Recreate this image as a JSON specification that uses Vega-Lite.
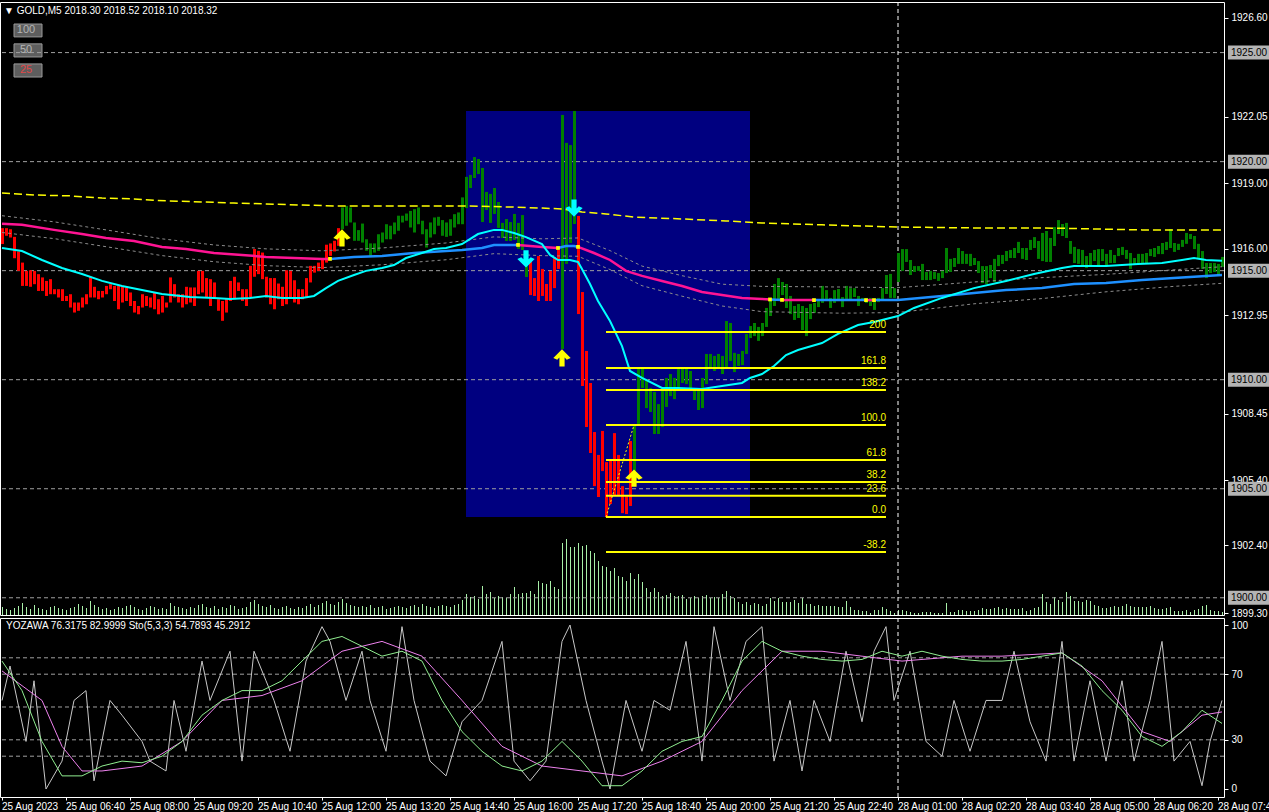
{
"$schema":"https://vega.github.io/schema/vega-lite/v6.json",
"background":"#000000",
"padding":{"left":-4,"top":1,"right":0,"bottom":0},
"bounds":"flush",
"spacing":3,
"config":{"view":{"stroke":"#FFFFFF","strokeWidth":1},"font":"Liberation Sans","axis":{"labelFont":"Liberation Sans","labelFontSize":10,"labelColor":"#FFFFFF","tickColor":"#FFFFFF","domain":false,"grid":false,"labelOverlap":false}},
"resolve":{"scale":{"x":"shared","y":"independent"}},
"datasets":{
"bars":[
{"t":"25 Aug 05:20","o":1916.95,"c":1916.22,"v":80,"k":"d"},
{"t":"25 Aug 05:25","o":1916.95,"c":1916.60,"v":60,"k":"d"},
{"t":"25 Aug 05:30","o":1916.90,"c":1916.52,"v":50,"k":"d"},
{"t":"25 Aug 05:35","o":1916.55,"c":1915.57,"v":70,"k":"d"},
{"t":"25 Aug 05:40","o":1915.88,"c":1914.99,"v":90,"k":"d"},
{"t":"25 Aug 05:45","o":1915.37,"c":1914.30,"v":120,"k":"d"},
{"t":"25 Aug 05:50","o":1914.99,"c":1914.30,"v":80,"k":"d"},
{"t":"25 Aug 05:55","o":1915.02,"c":1914.26,"v":60,"k":"d"},
{"t":"25 Aug 06:00","o":1914.99,"c":1914.38,"v":100,"k":"d"},
{"t":"25 Aug 06:05","o":1914.84,"c":1914.07,"v":70,"k":"d"},
{"t":"25 Aug 06:10","o":1914.69,"c":1914.07,"v":60,"k":"d"},
{"t":"25 Aug 06:15","o":1914.53,"c":1913.84,"v":50,"k":"d"},
{"t":"25 Aug 06:20","o":1914.61,"c":1913.92,"v":80,"k":"d"},
{"t":"25 Aug 06:25","o":1914.15,"c":1913.92,"v":90,"k":"d"},
{"t":"25 Aug 06:30","o":1914.15,"c":1913.77,"v":70,"k":"d"},
{"t":"25 Aug 06:35","o":1914.15,"c":1913.61,"v":60,"k":"d"},
{"t":"25 Aug 06:40","o":1913.84,"c":1913.61,"v":50,"k":"d"},
{"t":"25 Aug 06:45","o":1913.92,"c":1913.31,"v":70,"k":"d"},
{"t":"25 Aug 06:50","o":1913.54,"c":1913.08,"v":80,"k":"d"},
{"t":"25 Aug 06:55","o":1913.54,"c":1913.16,"v":110,"k":"d"},
{"t":"25 Aug 07:00","o":1913.77,"c":1913.31,"v":90,"k":"d"},
{"t":"25 Aug 07:05","o":1913.92,"c":1913.46,"v":70,"k":"d"},
{"t":"25 Aug 07:10","o":1914.72,"c":1913.77,"v":140,"k":"d"},
{"t":"25 Aug 07:15","o":1914.26,"c":1913.77,"v":100,"k":"d"},
{"t":"25 Aug 07:20","o":1914.07,"c":1913.69,"v":80,"k":"d"},
{"t":"25 Aug 07:25","o":1914.07,"c":1913.77,"v":60,"k":"d"},
{"t":"25 Aug 07:30","o":1914.30,"c":1913.92,"v":70,"k":"d"},
{"t":"25 Aug 07:35","o":1914.38,"c":1914.15,"v":50,"k":"d"},
{"t":"25 Aug 07:40","o":1914.30,"c":1913.61,"v":60,"k":"d"},
{"t":"25 Aug 07:45","o":1914.30,"c":1913.23,"v":80,"k":"d"},
{"t":"25 Aug 07:50","o":1914.26,"c":1913.54,"v":70,"k":"d"},
{"t":"25 Aug 07:55","o":1914.23,"c":1913.61,"v":90,"k":"d"},
{"t":"25 Aug 08:00","o":1914.00,"c":1913.38,"v":100,"k":"d"},
{"t":"25 Aug 08:05","o":1913.61,"c":1913.08,"v":80,"k":"d"},
{"t":"25 Aug 08:10","o":1913.38,"c":1913.00,"v":60,"k":"d"},
{"t":"25 Aug 08:15","o":1913.92,"c":1913.31,"v":50,"k":"d"},
{"t":"25 Aug 08:20","o":1913.84,"c":1913.38,"v":70,"k":"d"},
{"t":"25 Aug 08:25","o":1913.77,"c":1913.31,"v":90,"k":"d"},
{"t":"25 Aug 08:30","o":1914.00,"c":1913.23,"v":80,"k":"d"},
{"t":"25 Aug 08:35","o":1913.69,"c":1913.00,"v":60,"k":"d"},
{"t":"25 Aug 08:40","o":1913.84,"c":1913.08,"v":70,"k":"d"},
{"t":"25 Aug 08:45","o":1913.54,"c":1913.31,"v":60,"k":"d"},
{"t":"25 Aug 08:50","o":1914.69,"c":1913.54,"v":120,"k":"d"},
{"t":"25 Aug 08:55","o":1914.38,"c":1913.77,"v":90,"k":"d"},
{"t":"25 Aug 09:00","o":1913.92,"c":1913.54,"v":80,"k":"d"},
{"t":"25 Aug 09:05","o":1913.92,"c":1913.31,"v":70,"k":"d"},
{"t":"25 Aug 09:10","o":1914.26,"c":1913.46,"v":60,"k":"d"},
{"t":"25 Aug 09:15","o":1914.23,"c":1913.54,"v":80,"k":"d"},
{"t":"25 Aug 09:20","o":1914.23,"c":1913.38,"v":70,"k":"d"},
{"t":"25 Aug 09:25","o":1914.99,"c":1913.92,"v":100,"k":"d"},
{"t":"25 Aug 09:30","o":1914.99,"c":1914.00,"v":110,"k":"d"},
{"t":"25 Aug 09:35","o":1914.66,"c":1913.77,"v":80,"k":"d"},
{"t":"25 Aug 09:40","o":1914.61,"c":1913.38,"v":70,"k":"d"},
{"t":"25 Aug 09:45","o":1914.46,"c":1913.77,"v":90,"k":"d"},
{"t":"25 Aug 09:50","o":1913.69,"c":1913.16,"v":60,"k":"d"},
{"t":"25 Aug 09:55","o":1913.61,"c":1912.70,"v":80,"k":"d"},
{"t":"25 Aug 10:00","o":1913.69,"c":1913.08,"v":70,"k":"d"},
{"t":"25 Aug 10:05","o":1914.53,"c":1913.61,"v":100,"k":"d"},
{"t":"25 Aug 10:10","o":1914.72,"c":1913.69,"v":90,"k":"d"},
{"t":"25 Aug 10:15","o":1914.46,"c":1914.07,"v":60,"k":"d"},
{"t":"25 Aug 10:20","o":1914.15,"c":1913.61,"v":70,"k":"d"},
{"t":"25 Aug 10:25","o":1914.15,"c":1913.38,"v":80,"k":"d"},
{"t":"25 Aug 10:30","o":1915.22,"c":1913.77,"v":130,"k":"d"},
{"t":"25 Aug 10:35","o":1915.99,"c":1914.72,"v":150,"k":"d"},
{"t":"25 Aug 10:40","o":1915.91,"c":1914.84,"v":110,"k":"d"},
{"t":"25 Aug 10:45","o":1915.83,"c":1914.61,"v":90,"k":"d"},
{"t":"25 Aug 10:50","o":1914.72,"c":1913.77,"v":80,"k":"d"},
{"t":"25 Aug 10:55","o":1914.66,"c":1913.46,"v":100,"k":"d"},
{"t":"25 Aug 11:00","o":1914.66,"c":1913.23,"v":70,"k":"d"},
{"t":"25 Aug 11:05","o":1914.41,"c":1913.69,"v":60,"k":"d"},
{"t":"25 Aug 11:10","o":1914.26,"c":1913.38,"v":80,"k":"d"},
{"t":"25 Aug 11:15","o":1915.02,"c":1913.46,"v":90,"k":"d"},
{"t":"25 Aug 11:20","o":1914.99,"c":1913.77,"v":70,"k":"d"},
{"t":"25 Aug 11:25","o":1914.56,"c":1913.54,"v":60,"k":"d"},
{"t":"25 Aug 11:30","o":1914.15,"c":1913.46,"v":80,"k":"d"},
{"t":"25 Aug 11:35","o":1914.15,"c":1913.69,"v":70,"k":"d"},
{"t":"25 Aug 11:40","o":1914.66,"c":1913.77,"v":90,"k":"d"},
{"t":"25 Aug 11:45","o":1915.22,"c":1914.46,"v":110,"k":"d"},
{"t":"25 Aug 11:50","o":1915.22,"c":1914.91,"v":80,"k":"d"},
{"t":"25 Aug 11:55","o":1915.37,"c":1914.99,"v":100,"k":"d"},
{"t":"25 Aug 12:00","o":1915.53,"c":1915.07,"v":120,"k":"d"},
{"t":"25 Aug 12:05","o":1916.19,"c":1915.37,"v":140,"k":"d"},
{"t":"25 Aug 12:10","o":1916.25,"c":1915.68,"v":110,"k":"d"},
{"t":"25 Aug 12:15","o":1916.37,"c":1915.88,"v":100,"k":"d"},
{"t":"25 Aug 12:20","o":1916.95,"c":1916.14,"v":130,"k":"d"},
{"t":"25 Aug 12:25","o":1916.90,"c":1917.90,"v":160,"k":"u"},
{"t":"25 Aug 12:30","o":1917.06,"c":1917.97,"v":120,"k":"u"},
{"t":"25 Aug 12:35","o":1917.21,"c":1917.90,"v":100,"k":"u"},
{"t":"25 Aug 12:40","o":1916.37,"c":1917.21,"v":90,"k":"u"},
{"t":"25 Aug 12:45","o":1916.37,"c":1916.86,"v":80,"k":"u"},
{"t":"25 Aug 12:50","o":1916.29,"c":1917.16,"v":90,"k":"u"},
{"t":"25 Aug 12:55","o":1915.91,"c":1916.44,"v":80,"k":"u"},
{"t":"25 Aug 13:00","o":1915.68,"c":1916.25,"v":100,"k":"u"},
{"t":"25 Aug 13:05","o":1915.83,"c":1916.25,"v":70,"k":"u"},
{"t":"25 Aug 13:10","o":1915.91,"c":1916.67,"v":80,"k":"u"},
{"t":"25 Aug 13:15","o":1916.29,"c":1916.75,"v":90,"k":"u"},
{"t":"25 Aug 13:20","o":1916.44,"c":1917.13,"v":60,"k":"u"},
{"t":"25 Aug 13:25","o":1916.44,"c":1917.06,"v":70,"k":"u"},
{"t":"25 Aug 13:30","o":1916.67,"c":1917.21,"v":80,"k":"u"},
{"t":"25 Aug 13:35","o":1916.83,"c":1917.52,"v":90,"k":"u"},
{"t":"25 Aug 13:40","o":1917.21,"c":1917.52,"v":80,"k":"u"},
{"t":"25 Aug 13:45","o":1917.29,"c":1917.62,"v":70,"k":"u"},
{"t":"25 Aug 13:50","o":1916.98,"c":1917.74,"v":90,"k":"u"},
{"t":"25 Aug 13:55","o":1916.75,"c":1917.82,"v":100,"k":"u"},
{"t":"25 Aug 14:00","o":1917.13,"c":1917.90,"v":80,"k":"u"},
{"t":"25 Aug 14:05","o":1916.67,"c":1917.29,"v":110,"k":"u"},
{"t":"25 Aug 14:10","o":1916.06,"c":1916.90,"v":90,"k":"u"},
{"t":"25 Aug 14:15","o":1916.52,"c":1917.21,"v":80,"k":"u"},
{"t":"25 Aug 14:20","o":1916.67,"c":1917.44,"v":70,"k":"u"},
{"t":"25 Aug 14:25","o":1917.06,"c":1917.47,"v":90,"k":"u"},
{"t":"25 Aug 14:30","o":1916.60,"c":1917.32,"v":100,"k":"u"},
{"t":"25 Aug 14:35","o":1916.55,"c":1917.21,"v":90,"k":"u"},
{"t":"25 Aug 14:40","o":1916.60,"c":1917.36,"v":80,"k":"u"},
{"t":"25 Aug 14:45","o":1916.98,"c":1917.59,"v":100,"k":"u"},
{"t":"25 Aug 14:50","o":1917.13,"c":1917.67,"v":110,"k":"u"},
{"t":"25 Aug 14:55","o":1917.13,"c":1918.36,"v":150,"k":"u"},
{"t":"25 Aug 15:00","o":1917.87,"c":1919.30,"v":210,"k":"u"},
{"t":"25 Aug 15:05","o":1918.79,"c":1919.39,"v":180,"k":"u"},
{"t":"25 Aug 15:10","o":1919.25,"c":1920.21,"v":190,"k":"u"},
{"t":"25 Aug 15:15","o":1919.43,"c":1920.12,"v":160,"k":"u"},
{"t":"25 Aug 15:20","o":1917.23,"c":1919.71,"v":290,"k":"u"},
{"t":"25 Aug 15:25","o":1917.78,"c":1918.61,"v":210,"k":"u"},
{"t":"25 Aug 15:30","o":1917.19,"c":1918.52,"v":230,"k":"u"},
{"t":"25 Aug 15:35","o":1917.60,"c":1918.79,"v":170,"k":"u"},
{"t":"25 Aug 15:40","o":1916.96,"c":1918.15,"v":190,"k":"u"},
{"t":"25 Aug 15:45","o":1916.50,"c":1917.19,"v":180,"k":"u"},
{"t":"25 Aug 15:50","o":1916.36,"c":1917.37,"v":170,"k":"u"},
{"t":"25 Aug 15:55","o":1916.36,"c":1917.23,"v":210,"k":"u"},
{"t":"25 Aug 16:00","o":1916.41,"c":1917.60,"v":280,"k":"u"},
{"t":"25 Aug 16:05","o":1916.00,"c":1917.19,"v":210,"k":"u"},
{"t":"25 Aug 16:10","o":1915.95,"c":1917.55,"v":220,"k":"u"},
{"t":"25 Aug 16:15","o":1914.71,"c":1915.58,"v":220,"k":"u"},
{"t":"25 Aug 16:20","o":1915.44,"c":1913.88,"v":240,"k":"d"},
{"t":"25 Aug 16:25","o":1914.66,"c":1913.84,"v":210,"k":"d"},
{"t":"25 Aug 16:30","o":1915.67,"c":1913.61,"v":340,"k":"d"},
{"t":"25 Aug 16:35","o":1915.08,"c":1913.84,"v":320,"k":"d"},
{"t":"25 Aug 16:40","o":1914.39,"c":1913.61,"v":310,"k":"d"},
{"t":"25 Aug 16:45","o":1914.99,"c":1913.61,"v":340,"k":"d"},
{"t":"25 Aug 16:50","o":1915.63,"c":1914.20,"v":280,"k":"d"},
{"t":"25 Aug 16:55","o":1915.95,"c":1915.08,"v":260,"k":"d"},
{"t":"25 Aug 17:00","o":1911.41,"c":1922.14,"v":720,"k":"u"},
{"t":"25 Aug 17:05","o":1915.31,"c":1920.86,"v":760,"k":"u"},
{"t":"25 Aug 17:10","o":1916.27,"c":1920.76,"v":680,"k":"u"},
{"t":"25 Aug 17:15","o":1917.14,"c":1922.32,"v":680,"k":"u"},
{"t":"25 Aug 17:20","o":1917.51,"c":1913.01,"v":720,"k":"d"},
{"t":"25 Aug 17:25","o":1914.02,"c":1909.71,"v":690,"k":"d"},
{"t":"25 Aug 17:30","o":1911.32,"c":1907.83,"v":700,"k":"d"},
{"t":"25 Aug 17:35","o":1909.85,"c":1906.64,"v":640,"k":"d"},
{"t":"25 Aug 17:40","o":1907.60,"c":1905.12,"v":620,"k":"d"},
{"t":"25 Aug 17:45","o":1906.55,"c":1904.62,"v":540,"k":"d"},
{"t":"25 Aug 17:50","o":1907.65,"c":1905.81,"v":490,"k":"d"},
{"t":"25 Aug 17:55","o":1906.22,"c":1903.70,"v":480,"k":"d"},
{"t":"25 Aug 18:00","o":1906.32,"c":1904.30,"v":440,"k":"d"},
{"t":"25 Aug 18:05","o":1907.55,"c":1904.71,"v":470,"k":"d"},
{"t":"25 Aug 18:10","o":1906.55,"c":1904.66,"v":390,"k":"d"},
{"t":"25 Aug 18:15","o":1905.12,"c":1903.88,"v":380,"k":"d"},
{"t":"25 Aug 18:20","o":1904.66,"c":1903.84,"v":340,"k":"d"},
{"t":"25 Aug 18:25","o":1907.19,"c":1904.21,"v":420,"k":"d"},
{"t":"25 Aug 18:30","o":1905.81,"c":1907.97,"v":360,"k":"u"},
{"t":"25 Aug 18:35","o":1907.97,"c":1910.49,"v":410,"k":"u"},
{"t":"25 Aug 18:40","o":1909.62,"c":1910.49,"v":330,"k":"u"},
{"t":"25 Aug 18:45","o":1908.70,"c":1910.03,"v":270,"k":"u"},
{"t":"25 Aug 18:50","o":1908.52,"c":1909.62,"v":230,"k":"u"},
{"t":"25 Aug 18:55","o":1907.51,"c":1909.44,"v":270,"k":"u"},
{"t":"25 Aug 19:00","o":1907.51,"c":1908.88,"v":230,"k":"u"},
{"t":"25 Aug 19:05","o":1907.83,"c":1909.62,"v":190,"k":"u"},
{"t":"25 Aug 19:10","o":1908.75,"c":1910.08,"v":200,"k":"u"},
{"t":"25 Aug 19:15","o":1909.25,"c":1910.26,"v":220,"k":"u"},
{"t":"25 Aug 19:20","o":1909.11,"c":1910.08,"v":190,"k":"u"},
{"t":"25 Aug 19:25","o":1909.62,"c":1910.49,"v":190,"k":"u"},
{"t":"25 Aug 19:30","o":1909.85,"c":1910.49,"v":200,"k":"u"},
{"t":"25 Aug 19:35","o":1909.80,"c":1910.49,"v":160,"k":"u"},
{"t":"25 Aug 19:40","o":1909.53,"c":1910.40,"v":170,"k":"u"},
{"t":"25 Aug 19:45","o":1909.07,"c":1909.62,"v":190,"k":"u"},
{"t":"25 Aug 19:50","o":1908.61,"c":1909.62,"v":170,"k":"u"},
{"t":"25 Aug 19:55","o":1908.70,"c":1910.08,"v":190,"k":"u"},
{"t":"25 Aug 20:00","o":1909.80,"c":1911.18,"v":200,"k":"u"},
{"t":"25 Aug 20:05","o":1910.49,"c":1911.18,"v":170,"k":"u"},
{"t":"25 Aug 20:10","o":1910.40,"c":1911.09,"v":180,"k":"u"},
{"t":"25 Aug 20:15","o":1910.49,"c":1911.18,"v":170,"k":"u"},
{"t":"25 Aug 20:20","o":1910.26,"c":1911.09,"v":210,"k":"u"},
{"t":"25 Aug 20:25","o":1910.49,"c":1912.69,"v":240,"k":"u"},
{"t":"25 Aug 20:30","o":1910.86,"c":1912.60,"v":190,"k":"u"},
{"t":"25 Aug 20:35","o":1910.35,"c":1911.23,"v":170,"k":"u"},
{"t":"25 Aug 20:40","o":1910.63,"c":1911.18,"v":130,"k":"u"},
{"t":"25 Aug 20:45","o":1910.67,"c":1911.32,"v":110,"k":"u"},
{"t":"25 Aug 20:50","o":1911.18,"c":1912.10,"v":130,"k":"u"},
{"t":"25 Aug 20:55","o":1911.91,"c":1912.46,"v":100,"k":"u"},
{"t":"25 Aug 21:00","o":1912.00,"c":1912.60,"v":120,"k":"u"},
{"t":"25 Aug 21:05","o":1911.78,"c":1912.42,"v":110,"k":"u"},
{"t":"25 Aug 21:10","o":1912.00,"c":1912.60,"v":90,"k":"u"},
{"t":"25 Aug 21:15","o":1912.42,"c":1913.29,"v":110,"k":"u"},
{"t":"25 Aug 21:20","o":1912.92,"c":1913.70,"v":170,"k":"u"},
{"t":"25 Aug 21:25","o":1913.38,"c":1914.39,"v":140,"k":"u"},
{"t":"25 Aug 21:30","o":1913.61,"c":1914.66,"v":170,"k":"u"},
{"t":"25 Aug 21:35","o":1913.88,"c":1914.48,"v":130,"k":"u"},
{"t":"25 Aug 21:40","o":1913.29,"c":1914.39,"v":130,"k":"u"},
{"t":"25 Aug 21:45","o":1913.01,"c":1913.84,"v":130,"k":"u"},
{"t":"25 Aug 21:50","o":1912.74,"c":1913.38,"v":150,"k":"u"},
{"t":"25 Aug 21:55","o":1912.83,"c":1913.47,"v":120,"k":"u"},
{"t":"25 Aug 22:00","o":1912.28,"c":1913.38,"v":170,"k":"u"},
{"t":"25 Aug 22:05","o":1912.00,"c":1913.29,"v":110,"k":"u"},
{"t":"25 Aug 22:10","o":1912.78,"c":1913.47,"v":110,"k":"u"},
{"t":"25 Aug 22:15","o":1913.06,"c":1913.52,"v":90,"k":"u"},
{"t":"25 Aug 22:20","o":1913.33,"c":1913.70,"v":100,"k":"u"},
{"t":"25 Aug 22:25","o":1913.52,"c":1914.30,"v":90,"k":"u"},
{"t":"25 Aug 22:30","o":1913.61,"c":1914.11,"v":90,"k":"u"},
{"t":"25 Aug 22:35","o":1913.29,"c":1913.75,"v":90,"k":"u"},
{"t":"25 Aug 22:40","o":1913.52,"c":1914.11,"v":90,"k":"u"},
{"t":"25 Aug 22:45","o":1913.61,"c":1914.16,"v":80,"k":"u"},
{"t":"25 Aug 22:50","o":1913.33,"c":1913.79,"v":80,"k":"u"},
{"t":"25 Aug 22:55","o":1913.70,"c":1914.30,"v":140,"k":"u"},
{"t":"25 Aug 23:00","o":1913.65,"c":1914.20,"v":80,"k":"u"},
{"t":"25 Aug 23:05","o":1913.79,"c":1914.20,"v":50,"k":"u"},
{"t":"25 Aug 23:10","o":1913.38,"c":1913.84,"v":50,"k":"u"},
{"t":"25 Aug 23:15","o":1913.61,"c":1913.75,"v":40,"k":"u"},
{"t":"25 Aug 23:20","o":1913.52,"c":1913.75,"v":40,"k":"u"},
{"t":"25 Aug 23:25","o":1913.38,"c":1913.75,"v":20,"k":"u"},
{"t":"25 Aug 23:30","o":1913.20,"c":1913.61,"v":50,"k":"u"},
{"t":"25 Aug 23:35","o":1913.56,"c":1913.75,"v":50,"k":"u"},
{"t":"25 Aug 23:40","o":1913.70,"c":1914.20,"v":80,"k":"u"},
{"t":"25 Aug 23:45","o":1913.93,"c":1914.80,"v":60,"k":"u"},
{"t":"25 Aug 23:50","o":1913.75,"c":1914.85,"v":40,"k":"u"},
{"t":"25 Aug 23:55","o":1913.75,"c":1914.20,"v":20,"k":"u"},
{"t":"28 Aug 01:00","o":1914.48,"c":1915.81,"v":50,"k":"u"},
{"t":"28 Aug 01:05","o":1914.99,"c":1915.99,"v":50,"k":"u"},
{"t":"28 Aug 01:10","o":1915.40,"c":1915.99,"v":40,"k":"u"},
{"t":"28 Aug 01:15","o":1914.80,"c":1915.49,"v":30,"k":"u"},
{"t":"28 Aug 01:20","o":1914.94,"c":1915.21,"v":20,"k":"u"},
{"t":"28 Aug 01:25","o":1914.99,"c":1915.21,"v":20,"k":"u"},
{"t":"28 Aug 01:30","o":1914.57,"c":1915.31,"v":30,"k":"u"},
{"t":"28 Aug 01:35","o":1914.57,"c":1914.94,"v":30,"k":"u"},
{"t":"28 Aug 01:40","o":1914.57,"c":1914.99,"v":30,"k":"u"},
{"t":"28 Aug 01:45","o":1914.62,"c":1914.94,"v":20,"k":"u"},
{"t":"28 Aug 01:50","o":1914.53,"c":1914.89,"v":20,"k":"u"},
{"t":"28 Aug 01:55","o":1914.66,"c":1914.99,"v":20,"k":"u"},
{"t":"28 Aug 02:00","o":1914.89,"c":1916.04,"v":120,"k":"u"},
{"t":"28 Aug 02:05","o":1914.94,"c":1915.54,"v":30,"k":"u"},
{"t":"28 Aug 02:10","o":1915.17,"c":1915.58,"v":30,"k":"u"},
{"t":"28 Aug 02:15","o":1915.31,"c":1916.04,"v":50,"k":"u"},
{"t":"28 Aug 02:20","o":1915.31,"c":1915.90,"v":50,"k":"u"},
{"t":"28 Aug 02:25","o":1915.31,"c":1915.77,"v":40,"k":"u"},
{"t":"28 Aug 02:30","o":1915.21,"c":1915.77,"v":40,"k":"u"},
{"t":"28 Aug 02:35","o":1915.26,"c":1915.58,"v":40,"k":"u"},
{"t":"28 Aug 02:40","o":1914.89,"c":1915.44,"v":50,"k":"u"},
{"t":"28 Aug 02:45","o":1914.43,"c":1915.21,"v":70,"k":"u"},
{"t":"28 Aug 02:50","o":1914.39,"c":1915.21,"v":60,"k":"u"},
{"t":"28 Aug 02:55","o":1914.66,"c":1915.26,"v":60,"k":"u"},
{"t":"28 Aug 03:00","o":1914.48,"c":1915.54,"v":70,"k":"u"},
{"t":"28 Aug 03:05","o":1915.21,"c":1915.72,"v":80,"k":"u"},
{"t":"28 Aug 03:10","o":1915.31,"c":1915.72,"v":60,"k":"u"},
{"t":"28 Aug 03:15","o":1915.44,"c":1915.90,"v":70,"k":"u"},
{"t":"28 Aug 03:20","o":1915.58,"c":1915.95,"v":60,"k":"u"},
{"t":"28 Aug 03:25","o":1915.58,"c":1916.04,"v":60,"k":"u"},
{"t":"28 Aug 03:30","o":1915.81,"c":1916.32,"v":60,"k":"u"},
{"t":"28 Aug 03:35","o":1915.54,"c":1916.04,"v":70,"k":"u"},
{"t":"28 Aug 03:40","o":1915.49,"c":1916.04,"v":40,"k":"u"},
{"t":"28 Aug 03:45","o":1915.95,"c":1916.41,"v":50,"k":"u"},
{"t":"28 Aug 03:50","o":1916.04,"c":1916.54,"v":70,"k":"u"},
{"t":"28 Aug 03:55","o":1915.54,"c":1916.36,"v":80,"k":"u"},
{"t":"28 Aug 04:00","o":1915.44,"c":1916.73,"v":210,"k":"u"},
{"t":"28 Aug 04:05","o":1915.40,"c":1916.82,"v":130,"k":"u"},
{"t":"28 Aug 04:10","o":1915.40,"c":1916.50,"v":110,"k":"u"},
{"t":"28 Aug 04:15","o":1916.13,"c":1917.00,"v":180,"k":"u"},
{"t":"28 Aug 04:20","o":1916.68,"c":1917.32,"v":150,"k":"u"},
{"t":"28 Aug 04:25","o":1916.59,"c":1917.14,"v":130,"k":"u"},
{"t":"28 Aug 04:30","o":1916.50,"c":1917.19,"v":230,"k":"u"},
{"t":"28 Aug 04:35","o":1915.77,"c":1916.36,"v":190,"k":"u"},
{"t":"28 Aug 04:40","o":1915.35,"c":1916.09,"v":140,"k":"u"},
{"t":"28 Aug 04:45","o":1915.31,"c":1915.99,"v":140,"k":"u"},
{"t":"28 Aug 04:50","o":1915.21,"c":1915.95,"v":130,"k":"u"},
{"t":"28 Aug 04:55","o":1915.12,"c":1915.67,"v":150,"k":"u"},
{"t":"28 Aug 05:00","o":1915.21,"c":1915.81,"v":140,"k":"u"},
{"t":"28 Aug 05:05","o":1915.44,"c":1915.95,"v":100,"k":"u"},
{"t":"28 Aug 05:10","o":1915.21,"c":1915.99,"v":90,"k":"u"},
{"t":"28 Aug 05:15","o":1915.44,"c":1915.99,"v":70,"k":"u"},
{"t":"28 Aug 05:20","o":1915.21,"c":1915.77,"v":70,"k":"u"},
{"t":"28 Aug 05:25","o":1915.35,"c":1915.95,"v":80,"k":"u"},
{"t":"28 Aug 05:30","o":1915.35,"c":1915.72,"v":90,"k":"u"},
{"t":"28 Aug 05:35","o":1915.67,"c":1916.04,"v":80,"k":"u"},
{"t":"28 Aug 05:40","o":1915.72,"c":1916.09,"v":90,"k":"u"},
{"t":"28 Aug 05:45","o":1915.54,"c":1915.95,"v":110,"k":"u"},
{"t":"28 Aug 05:50","o":1915.08,"c":1915.81,"v":90,"k":"u"},
{"t":"28 Aug 05:55","o":1915.31,"c":1915.58,"v":80,"k":"u"},
{"t":"28 Aug 06:00","o":1915.31,"c":1915.77,"v":80,"k":"u"},
{"t":"28 Aug 06:05","o":1915.35,"c":1915.77,"v":80,"k":"u"},
{"t":"28 Aug 06:10","o":1915.35,"c":1915.81,"v":80,"k":"u"},
{"t":"28 Aug 06:15","o":1915.67,"c":1915.99,"v":90,"k":"u"},
{"t":"28 Aug 06:20","o":1915.63,"c":1916.04,"v":70,"k":"u"},
{"t":"28 Aug 06:25","o":1915.76,"c":1916.13,"v":60,"k":"u"},
{"t":"28 Aug 06:30","o":1915.76,"c":1916.27,"v":60,"k":"u"},
{"t":"28 Aug 06:35","o":1915.95,"c":1916.32,"v":70,"k":"u"},
{"t":"28 Aug 06:40","o":1916.04,"c":1916.91,"v":80,"k":"u"},
{"t":"28 Aug 06:45","o":1915.86,"c":1916.27,"v":40,"k":"u"},
{"t":"28 Aug 06:50","o":1915.95,"c":1916.23,"v":40,"k":"u"},
{"t":"28 Aug 06:55","o":1916.09,"c":1916.41,"v":40,"k":"u"},
{"t":"28 Aug 07:00","o":1916.23,"c":1916.73,"v":50,"k":"u"},
{"t":"28 Aug 07:05","o":1916.45,"c":1916.68,"v":30,"k":"u"},
{"t":"28 Aug 07:10","o":1915.99,"c":1916.59,"v":50,"k":"u"},
{"t":"28 Aug 07:15","o":1915.58,"c":1916.23,"v":60,"k":"u"},
{"t":"28 Aug 07:20","o":1915.08,"c":1915.90,"v":90,"k":"u"},
{"t":"28 Aug 07:25","o":1914.66,"c":1915.35,"v":100,"k":"u"},
{"t":"28 Aug 07:30","o":1914.89,"c":1915.35,"v":50,"k":"u"},
{"t":"28 Aug 07:35","o":1914.94,"c":1915.35,"v":40,"k":"u"},
{"t":"28 Aug 07:40","o":1914.80,"c":1915.31,"v":40,"k":"u"},
{"t":"28 Aug 07:45","o":1915.17,"c":1915.63,"v":30,"k":"u"}
],
"m1":[
{"t":"25 Aug 05:20","y":1916.04},{"t":"25 Aug 05:45","y":1915.90},{"t":"25 Aug 06:10","y":1915.49},{"t":"25 Aug 06:35","y":1915.12},{"t":"25 Aug 07:00","y":1914.85},{"t":"25 Aug 07:25","y":1914.53},{"t":"25 Aug 07:50","y":1914.30},{"t":"25 Aug 08:15","y":1914.11},{"t":"25 Aug 08:40","y":1913.93},{"t":"25 Aug 09:15","y":1913.79},{"t":"25 Aug 09:45","y":1913.75},{"t":"25 Aug 10:05","y":1913.70},{"t":"25 Aug 10:30","y":1913.75},{"t":"25 Aug 10:50","y":1913.84},{"t":"25 Aug 11:10","y":1913.75},{"t":"25 Aug 11:35","y":1913.75},{"t":"25 Aug 11:50","y":1913.84},{"t":"25 Aug 12:05","y":1914.20},{"t":"25 Aug 12:20","y":1914.53},{"t":"25 Aug 12:40","y":1914.80},{"t":"25 Aug 12:55","y":1914.99},{"t":"25 Aug 13:15","y":1915.12},{"t":"25 Aug 13:30","y":1915.26},{"t":"25 Aug 13:45","y":1915.58},{"t":"25 Aug 14:05","y":1915.81},{"t":"25 Aug 14:20","y":1915.99},{"t":"25 Aug 14:35","y":1916.04},{"t":"25 Aug 14:55","y":1916.22},{"t":"25 Aug 15:15","y":1916.68},{"t":"25 Aug 15:35","y":1916.87},{"t":"25 Aug 15:45","y":1916.87},{"t":"25 Aug 16:00","y":1916.73},{"t":"25 Aug 16:15","y":1916.54},{"t":"25 Aug 16:35","y":1916.22},{"t":"25 Aug 16:45","y":1915.72},{"t":"25 Aug 16:55","y":1915.49},{"t":"25 Aug 17:10","y":1915.49},{"t":"25 Aug 17:20","y":1915.40},{"t":"25 Aug 17:25","y":1915.08},{"t":"25 Aug 17:35","y":1914.39},{"t":"25 Aug 17:45","y":1913.61},{"t":"25 Aug 18:00","y":1912.69},{"t":"25 Aug 18:15","y":1911.54},{"t":"25 Aug 18:25","y":1910.40},{"t":"25 Aug 18:40","y":1910.08},{"t":"25 Aug 19:05","y":1909.62},{"t":"25 Aug 19:25","y":1909.62},{"t":"25 Aug 19:55","y":1909.57},{"t":"25 Aug 20:20","y":1909.71},{"t":"25 Aug 20:45","y":1909.85},{"t":"25 Aug 20:55","y":1910.08},{"t":"25 Aug 21:10","y":1910.26},{"t":"25 Aug 21:25","y":1910.63},{"t":"25 Aug 21:40","y":1911.13},{"t":"25 Aug 21:55","y":1911.36},{"t":"25 Aug 22:25","y":1911.68},{"t":"25 Aug 22:45","y":1912.10},{"t":"25 Aug 23:10","y":1912.51},{"t":"25 Aug 23:30","y":1912.65},{"t":"28 Aug 01:00","y":1912.92},{"t":"28 Aug 01:20","y":1913.29},{"t":"28 Aug 01:55","y":1913.75},{"t":"28 Aug 02:35","y":1914.20},{"t":"28 Aug 03:15","y":1914.53},{"t":"28 Aug 03:50","y":1914.85},{"t":"28 Aug 04:25","y":1915.12},{"t":"28 Aug 04:40","y":1915.21},{"t":"28 Aug 05:20","y":1915.21},{"t":"28 Aug 06:00","y":1915.31},{"t":"28 Aug 06:30","y":1915.35},{"t":"28 Aug 06:55","y":1915.49},{"t":"28 Aug 07:10","y":1915.58},{"t":"28 Aug 07:25","y":1915.49},{"t":"28 Aug 07:45","y":1915.45}
],
"m3":[
{"t":"25 Aug 05:20","y":1918.56},{"t":"25 Aug 06:00","y":1918.47},{"t":"25 Aug 06:45","y":1918.43},{"t":"25 Aug 07:25","y":1918.33},{"t":"25 Aug 08:05","y":1918.29},{"t":"25 Aug 08:45","y":1918.20},{"t":"25 Aug 09:30","y":1918.15},{"t":"25 Aug 10:10","y":1918.10},{"t":"25 Aug 10:50","y":1918.06},{"t":"25 Aug 11:35","y":1918.01},{"t":"25 Aug 12:15","y":1917.97},{"t":"25 Aug 13:40","y":1917.97},{"t":"25 Aug 14:55","y":1917.97},{"t":"25 Aug 15:55","y":1917.92},{"t":"25 Aug 16:35","y":1917.87},{"t":"25 Aug 17:00","y":1917.83},{"t":"25 Aug 17:25","y":1917.69},{"t":"25 Aug 17:55","y":1917.60},{"t":"25 Aug 18:30","y":1917.46},{"t":"25 Aug 19:30","y":1917.37},{"t":"25 Aug 20:25","y":1917.28},{"t":"25 Aug 21:10","y":1917.19},{"t":"25 Aug 22:25","y":1917.10},{"t":"28 Aug 01:00","y":1917.00},{"t":"28 Aug 02:35","y":1916.96},{"t":"28 Aug 04:00","y":1916.96},{"t":"28 Aug 06:05","y":1916.87},{"t":"28 Aug 07:45","y":1916.87}
],
"m2":[
{"t":"25 Aug 05:20","y":1917.15,"seg":"A","side":"below"},{"t":"25 Aug 05:45","y":1917.10,"seg":"A","side":"below"},{"t":"25 Aug 06:25","y":1916.87,"seg":"A","side":"below"},{"t":"25 Aug 07:00","y":1916.68,"seg":"A","side":"below"},{"t":"25 Aug 07:30","y":1916.50,"seg":"A","side":"below"},{"t":"25 Aug 08:05","y":1916.36,"seg":"A","side":"below"},{"t":"25 Aug 08:40","y":1916.09,"seg":"A","side":"below"},{"t":"25 Aug 09:10","y":1915.99,"seg":"A","side":"below"},{"t":"25 Aug 09:45","y":1915.81,"seg":"A","side":"below"},{"t":"25 Aug 10:20","y":1915.72,"seg":"A","side":"below"},{"t":"25 Aug 10:50","y":1915.63,"seg":"A","side":"below"},{"t":"25 Aug 11:25","y":1915.58,"seg":"A","side":"below"},{"t":"25 Aug 12:00","y":1915.54,"seg":"A","side":"below"},{"t":"25 Aug 12:10","y":1915.54,"seg":"A","side":"below"},
{"t":"25 Aug 12:10","y":1915.54,"seg":"B","side":"above"},{"t":"25 Aug 12:40","y":1915.63,"seg":"B","side":"above"},{"t":"25 Aug 13:15","y":1915.67,"seg":"B","side":"above"},{"t":"25 Aug 13:55","y":1915.81,"seg":"B","side":"above"},{"t":"25 Aug 14:35","y":1915.90,"seg":"B","side":"above"},{"t":"25 Aug 14:55","y":1915.95,"seg":"B","side":"above"},{"t":"25 Aug 15:20","y":1916.04,"seg":"B","side":"above"},{"t":"25 Aug 15:35","y":1916.18,"seg":"B","side":"above"},{"t":"25 Aug 16:05","y":1916.18,"seg":"B","side":"above"},
{"t":"25 Aug 16:05","y":1916.18,"seg":"C","side":"below"},{"t":"25 Aug 16:35","y":1916.09,"seg":"C","side":"below"},{"t":"25 Aug 16:55","y":1916.04,"seg":"C","side":"below"},
{"t":"25 Aug 16:55","y":1916.04,"seg":"D","side":"above"},{"t":"25 Aug 17:05","y":1916.13,"seg":"D","side":"above"},{"t":"25 Aug 17:15","y":1916.13,"seg":"D","side":"above"},{"t":"25 Aug 17:20","y":1916.09,"seg":"D","side":"above"},
{"t":"25 Aug 17:20","y":1916.09,"seg":"E","side":"below"},{"t":"25 Aug 17:40","y":1915.81,"seg":"E","side":"below"},{"t":"25 Aug 18:00","y":1915.49,"seg":"E","side":"below"},{"t":"25 Aug 18:20","y":1914.99,"seg":"E","side":"below"},{"t":"25 Aug 18:40","y":1914.76,"seg":"E","side":"below"},{"t":"25 Aug 19:05","y":1914.53,"seg":"E","side":"below"},{"t":"25 Aug 19:30","y":1914.30,"seg":"E","side":"below"},{"t":"25 Aug 19:55","y":1914.02,"seg":"E","side":"below"},{"t":"25 Aug 20:20","y":1913.88,"seg":"E","side":"below"},{"t":"25 Aug 20:45","y":1913.75,"seg":"E","side":"below"},{"t":"25 Aug 21:10","y":1913.70,"seg":"E","side":"below"},{"t":"25 Aug 21:20","y":1913.68,"seg":"E","side":"below"},
{"t":"25 Aug 21:20","y":1913.68,"seg":"F","side":"above"},{"t":"25 Aug 21:35","y":1913.66,"seg":"F","side":"above"},
{"t":"25 Aug 21:35","y":1913.66,"seg":"G","side":"below"},{"t":"25 Aug 22:15","y":1913.65,"seg":"G","side":"below"},
{"t":"25 Aug 22:15","y":1913.65,"seg":"H","side":"above"},{"t":"25 Aug 23:20","y":1913.65,"seg":"H","side":"above"},
{"t":"25 Aug 23:20","y":1913.65,"seg":"I","side":"below"},{"t":"25 Aug 23:30","y":1913.65,"seg":"I","side":"below"},
{"t":"25 Aug 23:30","y":1913.65,"seg":"J","side":"above"},{"t":"28 Aug 01:00","y":1913.65,"seg":"J","side":"above"},{"t":"28 Aug 01:55","y":1913.84,"seg":"J","side":"above"},{"t":"28 Aug 02:35","y":1913.98,"seg":"J","side":"above"},{"t":"28 Aug 03:15","y":1914.11,"seg":"J","side":"above"},{"t":"28 Aug 04:00","y":1914.20,"seg":"J","side":"above"},{"t":"28 Aug 04:40","y":1914.39,"seg":"J","side":"above"},{"t":"28 Aug 05:20","y":1914.43,"seg":"J","side":"above"},{"t":"28 Aug 06:05","y":1914.57,"seg":"J","side":"above"},{"t":"28 Aug 06:45","y":1914.66,"seg":"J","side":"above"},{"t":"28 Aug 07:25","y":1914.76,"seg":"J","side":"above"},{"t":"28 Aug 07:45","y":1914.80,"seg":"J","side":"above"}
],
"env":[
{"t":"25 Aug 05:20","u":1917.52,"d":1916.75},{"t":"25 Aug 06:25","u":1917.24,"d":1916.47},{"t":"25 Aug 07:30","u":1916.87,"d":1916.10},{"t":"25 Aug 08:40","u":1916.46,"d":1915.69},{"t":"25 Aug 09:45","u":1916.18,"d":1915.41},{"t":"25 Aug 10:50","u":1916.00,"d":1915.23},{"t":"25 Aug 12:00","u":1915.91,"d":1915.14},{"t":"25 Aug 13:15","u":1916.04,"d":1915.27},{"t":"25 Aug 14:35","u":1916.27,"d":1915.50},{"t":"25 Aug 15:35","u":1916.55,"d":1915.78},{"t":"25 Aug 16:35","u":1916.46,"d":1915.69},{"t":"25 Aug 17:20","u":1916.50,"d":1915.66},{"t":"25 Aug 18:00","u":1915.92,"d":1915.05},{"t":"25 Aug 18:40","u":1915.21,"d":1914.31},{"t":"25 Aug 19:30","u":1914.77,"d":1913.83},{"t":"25 Aug 20:20","u":1914.38,"d":1913.38},{"t":"25 Aug 21:10","u":1914.28,"d":1913.12},{"t":"25 Aug 22:50","u":1914.25,"d":1913.05},{"t":"28 Aug 01:00","u":1914.22,"d":1913.08},{"t":"28 Aug 02:35","u":1914.48,"d":1913.48},{"t":"28 Aug 04:00","u":1914.68,"d":1913.72},{"t":"28 Aug 05:20","u":1914.83,"d":1914.03},{"t":"28 Aug 06:45","u":1915.04,"d":1914.28},{"t":"28 Aug 07:45","u":1915.18,"d":1914.42}
],
"cx":[
{"t":"25 Aug 12:10","p":1915.54},{"t":"25 Aug 16:05","p":1916.18},{"t":"25 Aug 16:55","p":1916.04},{"t":"25 Aug 17:20","p":1916.09},{"t":"25 Aug 21:20","p":1913.68},{"t":"25 Aug 21:35","p":1913.66},{"t":"25 Aug 22:15","p":1913.65},{"t":"25 Aug 23:20","p":1913.65},{"t":"25 Aug 23:30","p":1913.65}
],
"zone":[{"a":"25 Aug 15:00","b":"25 Aug 20:55","hi":1922.32,"lo":1903.70}],
"btn":[
{"a":"25 Aug 05:35","b":"25 Aug 06:10","m":"25 Aug 05:50","hi":1926.31,"lo":1925.72,"mid":1926.02,"s":"100"},
{"a":"25 Aug 05:35","b":"25 Aug 06:10","m":"25 Aug 05:50","hi":1925.40,"lo":1924.80,"mid":1925.10,"s":"50"},
{"a":"25 Aug 05:35","b":"25 Aug 06:10","m":"25 Aug 05:50","hi":1924.48,"lo":1923.88,"mid":1924.18,"s":"25"}
],
"lv":[{"p":1925},{"p":1920},{"p":1915},{"p":1910},{"p":1905},{"p":1900}],
"fib":[
{"lv":"200","p":1912.19},{"lv":"161.8","p":1910.54},{"lv":"138.2","p":1909.53},{"lv":"100.0","p":1907.92},{"lv":"61.8","p":1906.32},{"lv":"38.2","p":1905.31},{"lv":"23.6","p":1904.68},{"lv":"0.0","p":1903.70},{"lv":"-38.2","p":1902.10}
],
"fibt":[{"t":"25 Aug 17:55","p":1903.70},{"t":"25 Aug 18:30","p":1907.92}],
"arr":[
{"t":"25 Aug 12:25","p":1916.50,"d":"up"},{"t":"25 Aug 17:00","p":1911.00,"d":"up"},{"t":"25 Aug 18:30","p":1905.49,"d":"up"},{"t":"25 Aug 16:15","p":1915.54,"d":"down"},{"t":"25 Aug 17:15","p":1917.87,"d":"down"}
],
"olv":[{"v":80},{"v":70},{"v":50},{"v":30},{"v":20}],
"yz":[
{"t":"25 Aug 05:20","v":54},{"t":"25 Aug 05:30","v":75},{"t":"25 Aug 05:50","v":29},{"t":"25 Aug 06:00","v":66},{"t":"25 Aug 06:15","v":0},{"t":"25 Aug 06:35","v":17},{"t":"25 Aug 06:50","v":54},{"t":"25 Aug 07:05","v":60},{"t":"25 Aug 07:15","v":5},{"t":"25 Aug 07:35","v":54},{"t":"25 Aug 07:50","v":45},{"t":"25 Aug 08:15","v":29},{"t":"25 Aug 08:25","v":17},{"t":"25 Aug 08:45","v":11},{"t":"25 Aug 08:55","v":54},{"t":"25 Aug 09:10","v":23},{"t":"25 Aug 09:30","v":78},{"t":"25 Aug 09:40","v":54},{"t":"25 Aug 10:05","v":84},{"t":"25 Aug 10:20","v":17},{"t":"25 Aug 10:35","v":84},{"t":"25 Aug 10:50","v":66},{"t":"25 Aug 11:00","v":54},{"t":"25 Aug 11:20","v":23},{"t":"25 Aug 11:40","v":78},{"t":"25 Aug 12:00","v":99},{"t":"25 Aug 12:10","v":90},{"t":"25 Aug 12:30","v":54},{"t":"25 Aug 12:50","v":84},{"t":"25 Aug 13:00","v":54},{"t":"25 Aug 13:20","v":23},{"t":"25 Aug 13:40","v":99},{"t":"25 Aug 13:55","v":54},{"t":"25 Aug 14:15","v":17},{"t":"25 Aug 14:35","v":8},{"t":"25 Aug 14:55","v":41},{"t":"25 Aug 15:20","v":54},{"t":"25 Aug 15:45","v":90},{"t":"25 Aug 16:00","v":17},{"t":"25 Aug 16:20","v":5},{"t":"25 Aug 16:40","v":17},{"t":"25 Aug 17:00","v":90},{"t":"25 Aug 17:10","v":100},{"t":"25 Aug 17:30","v":54},{"t":"25 Aug 17:50","v":17},{"t":"25 Aug 18:00","v":0},{"t":"25 Aug 18:20","v":54},{"t":"25 Aug 18:40","v":23},{"t":"25 Aug 18:55","v":54},{"t":"25 Aug 19:15","v":48},{"t":"25 Aug 19:35","v":90},{"t":"25 Aug 19:55","v":17},{"t":"25 Aug 20:10","v":99},{"t":"25 Aug 20:30","v":54},{"t":"25 Aug 20:50","v":90},{"t":"25 Aug 21:10","v":99},{"t":"25 Aug 21:25","v":17},{"t":"25 Aug 21:45","v":54},{"t":"25 Aug 22:00","v":11},{"t":"25 Aug 22:15","v":54},{"t":"25 Aug 22:35","v":29},{"t":"25 Aug 22:55","v":84},{"t":"25 Aug 23:15","v":41},{"t":"25 Aug 23:30","v":84},{"t":"25 Aug 23:45","v":99},{"t":"25 Aug 23:55","v":54},{"t":"28 Aug 01:15","v":84},{"t":"28 Aug 01:35","v":29},{"t":"28 Aug 01:55","v":20},{"t":"28 Aug 02:10","v":54},{"t":"28 Aug 02:30","v":23},{"t":"28 Aug 02:50","v":54},{"t":"28 Aug 03:10","v":54},{"t":"28 Aug 03:25","v":84},{"t":"28 Aug 03:45","v":41},{"t":"28 Aug 04:05","v":17},{"t":"28 Aug 04:25","v":90},{"t":"28 Aug 04:40","v":17},{"t":"28 Aug 05:00","v":66},{"t":"28 Aug 05:20","v":17},{"t":"28 Aug 05:40","v":66},{"t":"28 Aug 05:55","v":17},{"t":"28 Aug 06:15","v":54},{"t":"28 Aug 06:30","v":90},{"t":"28 Aug 06:45","v":17},{"t":"28 Aug 07:05","v":29},{"t":"28 Aug 07:20","v":2},{"t":"28 Aug 07:30","v":29},{"t":"28 Aug 07:45","v":54}
],
"sg":[
{"t":"25 Aug 05:20","v":78},{"t":"25 Aug 05:45","v":60},{"t":"25 Aug 06:10","v":29},{"t":"25 Aug 06:35","v":8},{"t":"25 Aug 07:00","v":8},{"t":"25 Aug 07:25","v":14},{"t":"25 Aug 07:50","v":17},{"t":"25 Aug 08:15","v":16},{"t":"25 Aug 08:40","v":20},{"t":"25 Aug 09:05","v":29},{"t":"25 Aug 09:30","v":45},{"t":"25 Aug 09:55","v":54},{"t":"25 Aug 10:20","v":60},{"t":"25 Aug 10:45","v":60},{"t":"25 Aug 11:10","v":66},{"t":"25 Aug 11:35","v":78},{"t":"25 Aug 12:00","v":90},{"t":"25 Aug 12:25","v":93},{"t":"25 Aug 12:50","v":87},{"t":"25 Aug 13:15","v":81},{"t":"25 Aug 13:40","v":84},{"t":"25 Aug 14:05","v":78},{"t":"25 Aug 14:30","v":54},{"t":"25 Aug 14:55","v":35},{"t":"25 Aug 15:20","v":23},{"t":"25 Aug 15:45","v":14},{"t":"25 Aug 16:10","v":11},{"t":"25 Aug 16:35","v":17},{"t":"25 Aug 17:00","v":29},{"t":"25 Aug 17:25","v":17},{"t":"25 Aug 17:50","v":2},{"t":"25 Aug 18:15","v":2},{"t":"25 Aug 18:40","v":11},{"t":"25 Aug 19:05","v":23},{"t":"25 Aug 19:30","v":29},{"t":"25 Aug 19:55","v":32},{"t":"25 Aug 20:20","v":54},{"t":"25 Aug 20:45","v":78},{"t":"25 Aug 21:10","v":90},{"t":"25 Aug 21:35","v":84},{"t":"25 Aug 22:00","v":81},{"t":"25 Aug 22:25","v":79},{"t":"25 Aug 22:50","v":78},{"t":"25 Aug 23:15","v":79},{"t":"25 Aug 23:40","v":84},{"t":"28 Aug 01:05","v":81},{"t":"28 Aug 01:30","v":84},{"t":"28 Aug 01:55","v":81},{"t":"28 Aug 02:20","v":79},{"t":"28 Aug 02:45","v":78},{"t":"28 Aug 03:10","v":78},{"t":"28 Aug 03:35","v":79},{"t":"28 Aug 04:00","v":81},{"t":"28 Aug 04:25","v":83},{"t":"28 Aug 04:50","v":75},{"t":"28 Aug 05:15","v":60},{"t":"28 Aug 05:40","v":48},{"t":"28 Aug 06:05","v":32},{"t":"28 Aug 06:30","v":26},{"t":"28 Aug 06:55","v":35},{"t":"28 Aug 07:20","v":48},{"t":"28 Aug 07:45","v":40}
],
"sp":[
{"t":"25 Aug 05:20","v":72},{"t":"25 Aug 06:10","v":54},{"t":"25 Aug 06:35","v":26},{"t":"25 Aug 07:00","v":11},{"t":"25 Aug 07:25","v":11},{"t":"25 Aug 08:15","v":14},{"t":"25 Aug 09:05","v":29},{"t":"25 Aug 09:55","v":54},{"t":"25 Aug 10:45","v":57},{"t":"25 Aug 11:35","v":66},{"t":"25 Aug 12:25","v":84},{"t":"25 Aug 13:15","v":90},{"t":"25 Aug 14:05","v":81},{"t":"25 Aug 14:55","v":54},{"t":"25 Aug 15:45","v":26},{"t":"25 Aug 16:35","v":14},{"t":"25 Aug 17:25","v":11},{"t":"25 Aug 18:15","v":8},{"t":"25 Aug 19:05","v":17},{"t":"25 Aug 19:55","v":29},{"t":"25 Aug 20:45","v":60},{"t":"25 Aug 21:35","v":84},{"t":"25 Aug 22:25","v":84},{"t":"25 Aug 23:15","v":81},{"t":"28 Aug 01:05","v":78},{"t":"28 Aug 02:20","v":81},{"t":"28 Aug 03:10","v":81},{"t":"28 Aug 04:25","v":83},{"t":"28 Aug 05:15","v":66},{"t":"28 Aug 06:05","v":35},{"t":"28 Aug 06:40","v":29},{"t":"28 Aug 07:20","v":45},{"t":"28 Aug 07:45","v":47}
]
},
"vconcat":[
{"width":1224,"height":613,
 "resolve":{"scale":{"y":"independent"}},
 "layer":[
  {"data":{"name":"bars"},"mark":{"type":"bar","width":1,"xOffset":0.5,"color":"#A8F0A8"},
   "encoding":{"x":{"field":"t","type":"ordinal","axis":null,"scale":{"paddingInner":0,"paddingOuter":0}},
               "y":{"field":"v","type":"quantitative","scale":{"domain":[0,6130],"nice":false},"axis":null}}},
  {"layer":[
   {"data":{"name":"zone"},"mark":{"type":"rect","color":"#000080"},
    "encoding":{"x":{"field":"a","type":"ordinal","axis":null},"x2":{"field":"b"},"y":{"field":"hi","type":"quantitative","title":null,"scale":{"domain":[1899.21,1927.32],"nice":false,"zero":false}},"y2":{"field":"lo"}}},
   {"data":{"name":"btn"},"mark":{"type":"rect","color":"#5E5E5E","stroke":"#9A9A9A","strokeWidth":1},
    "encoding":{"x":{"field":"a","type":"ordinal","axis":null},"x2":{"field":"b"},"y":{"field":"hi","type":"quantitative","title":null},"y2":{"field":"lo"}}},
   {"data":{"name":"lv"},"mark":{"type":"rule","color":"#A0A0A0","strokeDash":[4,3],"strokeWidth":1},
    "encoding":{"y":{"field":"p","type":"quantitative","title":null}}},
   {"data":{"values":[{}]},"mark":{"type":"rule","color":"#FFFFFF","strokeDash":[4,3],"strokeWidth":1},
    "encoding":{"x":{"datum":"28 Aug 01:00","type":"ordinal","axis":null}}},
   {"data":{"name":"bars"},"transform":[{"filter":"datum.k=='u'"}],"mark":{"type":"bar","width":3,"xOffset":0.5,"color":"#008000"},
    "encoding":{"x":{"field":"t","type":"ordinal","axis":null},
                "y":{"field":"o","type":"quantitative","title":null,"axis":{"orient":"right","values":[1926.6,1923.55,1922.05,1920.55,1919,1917.5,1916,1914.5,1912.95,1911.45,1908.45,1906.9,1905.4,1903.9,1902.4,1900.85,1899.3],"format":".2f","title":null,"tickSize":4,"labelPadding":3}},
                "y2":{"field":"c"}}},
   {"data":{"name":"bars"},"transform":[{"filter":"datum.k=='d'"}],"mark":{"type":"bar","width":3,"xOffset":0.5,"color":"#FF0000"},
    "encoding":{"x":{"field":"t","type":"ordinal","axis":null},"y":{"field":"o","type":"quantitative","title":null},"y2":{"field":"c"}}},
   {"data":{"name":"env"},"mark":{"type":"line","color":"#8C8C8C","strokeDash":[3,3],"strokeWidth":1},
    "encoding":{"x":{"field":"t","type":"ordinal","axis":null},"y":{"field":"u","type":"quantitative","title":null}}},
   {"data":{"name":"env"},"mark":{"type":"line","color":"#8C8C8C","strokeDash":[3,3],"strokeWidth":1},
    "encoding":{"x":{"field":"t","type":"ordinal","axis":null},"y":{"field":"d","type":"quantitative","title":null}}},
   {"data":{"name":"m3"},"mark":{"type":"line","color":"#FFFF00","strokeDash":[8,4],"strokeWidth":1.5},
    "encoding":{"x":{"field":"t","type":"ordinal","axis":null},"y":{"field":"y","type":"quantitative","title":null}}},
   {"data":{"name":"m2"},"transform":[{"filter":"datum.side=='below'"}],"mark":{"type":"line","color":"#FF1493","strokeWidth":2.5},
    "encoding":{"x":{"field":"t","type":"ordinal","axis":null},"y":{"field":"y","type":"quantitative","title":null},"detail":{"field":"seg"}}},
   {"data":{"name":"m2"},"transform":[{"filter":"datum.side=='above'"}],"mark":{"type":"line","color":"#1E90FF","strokeWidth":2.5},
    "encoding":{"x":{"field":"t","type":"ordinal","axis":null},"y":{"field":"y","type":"quantitative","title":null},"detail":{"field":"seg"}}},
   {"data":{"name":"cx"},"mark":{"type":"point","shape":"square","filled":true,"color":"#FFFF00","size":14,"opacity":1},
    "encoding":{"x":{"field":"t","type":"ordinal","axis":null},"y":{"field":"p","type":"quantitative","title":null}}},
   {"data":{"name":"m1"},"mark":{"type":"line","color":"#00FFFF","strokeWidth":2},
    "encoding":{"x":{"field":"t","type":"ordinal","axis":null},"y":{"field":"y","type":"quantitative","title":null}}},
   {"data":{"name":"fib"},"mark":{"type":"rule","color":"#FFFF00","strokeWidth":2},
    "encoding":{"x":{"datum":"25 Aug 17:55","type":"ordinal","axis":null},"x2":{"datum":"25 Aug 23:45"},"y":{"field":"p","type":"quantitative","title":null}}},
   {"data":{"name":"fib"},"mark":{"type":"text","color":"#FFFF00","align":"right","baseline":"bottom","dy":-2,"fontSize":10},
    "encoding":{"x":{"datum":"25 Aug 23:45","type":"ordinal","axis":null},"y":{"field":"p","type":"quantitative","title":null},"text":{"field":"lv"}}},
   {"data":{"name":"fibt"},"mark":{"type":"line","color":"#FFFF00","strokeDash":[2,2],"strokeWidth":1},
    "encoding":{"x":{"field":"t","type":"ordinal","axis":null},"y":{"field":"p","type":"quantitative","title":null}}},
   {"data":{"name":"arr"},"transform":[{"filter":"datum.d=='up'"}],"mark":{"type":"point","shape":"M0,-1 L1,0 L0.55,0.2 L0.3,-0.05 L0.3,1 L-0.3,1 L-0.3,-0.05 L-0.55,0.2 L-1,0 Z","filled":true,"color":"#FFFF00","size":300,"opacity":1},
    "encoding":{"x":{"field":"t","type":"ordinal","axis":null},"y":{"field":"p","type":"quantitative","title":null}}},
   {"data":{"name":"arr"},"transform":[{"filter":"datum.d=='down'"}],"mark":{"type":"point","shape":"M0,1 L1,0 L0.55,-0.2 L0.3,0.05 L0.3,-1 L-0.3,-1 L-0.3,0.05 L-0.55,-0.2 L-1,0 Z","filled":true,"color":"#00FFFF","size":300,"opacity":1},
    "encoding":{"x":{"field":"t","type":"ordinal","axis":null},"y":{"field":"p","type":"quantitative","title":null}}},
   {"data":{"name":"btn"},"transform":[{"filter":"datum.s!='25'"}],"mark":{"type":"text","color":"#B4B4B4","align":"center","baseline":"middle","fontSize":11},
    "encoding":{"x":{"field":"m","type":"ordinal","axis":null},"y":{"field":"mid","type":"quantitative","title":null},"text":{"field":"s"}}},
   {"data":{"name":"btn"},"transform":[{"filter":"datum.s=='25'"}],"mark":{"type":"text","color":"#E04848","align":"center","baseline":"middle","fontSize":11},
    "encoding":{"x":{"field":"m","type":"ordinal","axis":null},"y":{"field":"mid","type":"quantitative","title":null},"text":{"field":"s"}}},
   {"data":{"values":[{"t":"25 Aug 05:20","p":1926.91,"s":"▼ GOLD,M5  2018.30 2018.52 2018.10 2018.32"}]},"mark":{"type":"text","color":"#FFFFFF","align":"left","baseline":"middle","dx":2,"fontSize":10},
    "encoding":{"x":{"field":"t","type":"ordinal","axis":null},"y":{"field":"p","type":"quantitative","title":null},"text":{"field":"s"}}},
   {"data":{"name":"lv"},"mark":{"type":"rect","color":"#B4B4B4","xOffset":6,"x2Offset":47,"yOffset":-7,"y2Offset":7},
    "encoding":{"x":{"datum":"28 Aug 07:45","type":"ordinal","axis":null},"x2":{"datum":"28 Aug 07:45"},"y":{"field":"p","type":"quantitative","title":null},"y2":{"field":"p"}}},
   {"data":{"name":"lv"},"mark":{"type":"text","color":"#000000","align":"left","baseline":"middle","dx":9,"fontSize":10},
    "encoding":{"x":{"datum":"28 Aug 07:45","type":"ordinal","axis":null},"y":{"field":"p","type":"quantitative","title":null},"text":{"field":"p","format":".2f"}}}
  ]}
 ]},
{"width":1224,"height":179,
 "layer":[
  {"data":{"name":"olv"},"mark":{"type":"rule","color":"#A0A0A0","strokeDash":[4,3],"strokeWidth":1},
   "encoding":{"y":{"field":"v","type":"quantitative","scale":{"domain":[-4.88,104.27],"nice":false,"zero":false},"axis":{"orient":"right","values":[0,20,30,50,70,80,100],"format":"d","title":null,"tickSize":4,"labelPadding":3}}}},
  {"data":{"values":[{}]},"mark":{"type":"rule","color":"#FFFFFF","strokeDash":[4,3],"strokeWidth":1},
   "encoding":{"x":{"datum":"28 Aug 01:00","type":"ordinal"}}},
  {"data":{"name":"yz"},"mark":{"type":"line","color":"#C8C8C8","strokeWidth":1},
   "encoding":{"x":{"field":"t","type":"ordinal","axis":{"orient":"bottom","values":["25 Aug 05:20","25 Aug 06:40","25 Aug 08:00","25 Aug 09:20","25 Aug 10:40","25 Aug 12:00","25 Aug 13:20","25 Aug 14:40","25 Aug 16:00","25 Aug 17:20","25 Aug 18:40","25 Aug 20:00","25 Aug 21:20","25 Aug 22:40","28 Aug 01:00","28 Aug 02:20","28 Aug 03:40","28 Aug 05:00","28 Aug 06:20","28 Aug 07:40"],"labelExpr":"datum.value=='25 Aug 05:20'?'25 Aug 2023':(datum.value=='28 Aug 07:40'?'28 Aug 07:4':datum.value)","labelAlign":"left","labelAngle":0,"labelBaseline":"top","tickSize":3,"labelPadding":1,"title":null}},
               "y":{"field":"v","type":"quantitative","title":null}}},
  {"data":{"name":"sp"},"mark":{"type":"line","color":"#EE82EE","strokeWidth":1},
   "encoding":{"x":{"field":"t","type":"ordinal","title":null},"y":{"field":"v","type":"quantitative","title":null}}},
  {"data":{"name":"sg"},"mark":{"type":"line","color":"#90EE90","strokeWidth":1},
   "encoding":{"x":{"field":"t","type":"ordinal","title":null},"y":{"field":"v","type":"quantitative","title":null}}},
  {"data":{"values":[{"t":"25 Aug 05:20","p":99.3,"s":"YOZAWA 76.3175 82.9999  Sto(5,3,3) 54.7893 45.2912"}]},"mark":{"type":"text","color":"#FFFFFF","align":"left","baseline":"middle","dx":4,"fontSize":10},
   "encoding":{"x":{"field":"t","type":"ordinal","title":null},"y":{"field":"p","type":"quantitative","title":null},"text":{"field":"s"}}}
 ]}
]
}
